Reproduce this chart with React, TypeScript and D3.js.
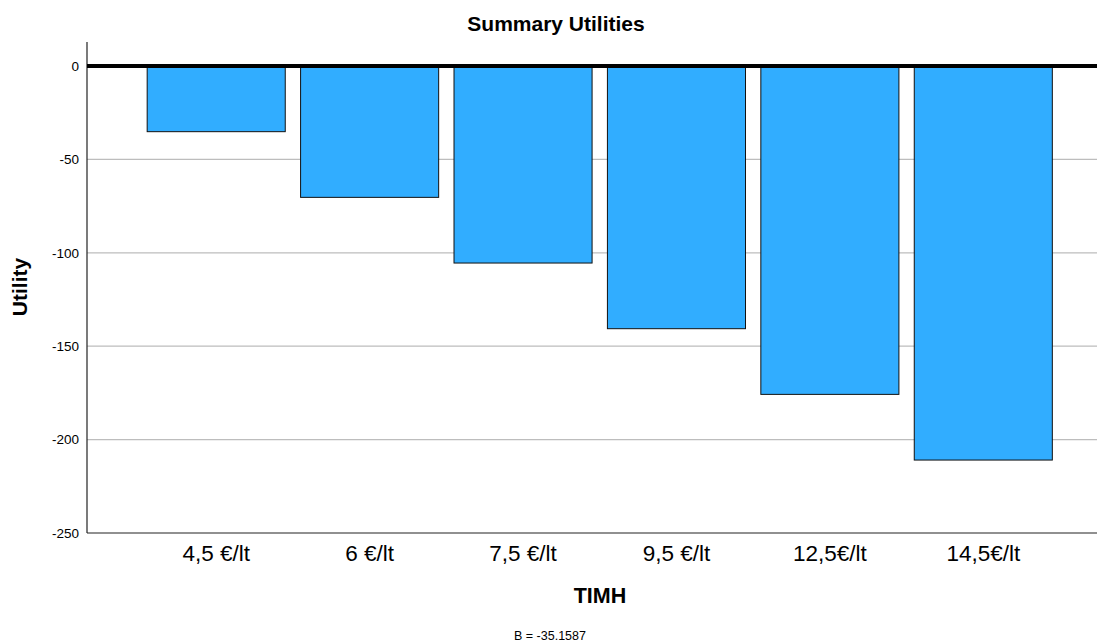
import React from "react";
import * as d3 from "d3";

const categories = ["4,5 €/lt", "6 €/lt", "7,5 €/lt", "9,5 €/lt", "12,5€/lt", "14,5€/lt"];
const utilities = [-35.16, -70.32, -105.48, -140.63, -175.79, -210.95];
const yTicks = [0, -50, -100, -150, -200, -250];

const W = 1097;
const H = 643;
const left = 87;
const right = 1097;
const yTop = 42;

export default function App() {
  const y = d3.scaleLinear().domain([0, -250]).range([66, 533]);
  const x = d3.scaleBand<string>().domain(categories).range([139.5, 1060]).paddingInner(0.1).paddingOuter(0.05);
  return (
    <svg width={W} height={H} style={{ position: "absolute", left: 0, top: 0 }} fontFamily="Arial, 'Liberation Sans', sans-serif">
      <rect width={W} height={H} fill="#fff" />
      <text x={556} y={31} textAnchor="middle" fontSize={21} fontWeight="bold">Summary Utilities</text>
      {yTicks.filter(t => t !== 0 && t !== -250).map(t => (
        <line key={t} x1={left} x2={right} y1={y(t)} y2={y(t)} stroke="#bdbdbd" strokeWidth={1.3} />
      ))}
      {yTicks.map(t => (
        <text key={"l" + t} x={79} y={y(t)} dy="0.35em" textAnchor="end" fontSize={13.5}>{t}</text>
      ))}
      {utilities.map((v, i) => (
        <rect key={i} x={x(categories[i])!} y={y(0)} width={x.bandwidth()} height={y(v) - y(0)} fill="#31adff" stroke="#111" strokeWidth={1} />
      ))}
      <line x1={left} x2={left} y1={yTop} y2={y(-250)} stroke="#222" strokeWidth={1.2} />
      <line x1={left} x2={right} y1={y(-250)} y2={y(-250)} stroke="#222" strokeWidth={1.2} />
      <line x1={left} x2={right} y1={y(0)} y2={y(0)} stroke="#000" strokeWidth={4} />
      {categories.map(c => (
        <text key={c} x={x(c)! + x.bandwidth() / 2} y={561} textAnchor="middle" fontSize={22.5}>{c}</text>
      ))}
      <text x={600} y={603} textAnchor="middle" fontSize={21.5} fontWeight="bold">TIMH</text>
      <text x={550} y={640} textAnchor="middle" fontSize={12.5}>B = -35.1587</text>
      <text transform={`translate(27,${287}) rotate(-90)`} textAnchor="middle" fontSize={21} fontWeight="bold">Utility</text>
    </svg>
  );
}
